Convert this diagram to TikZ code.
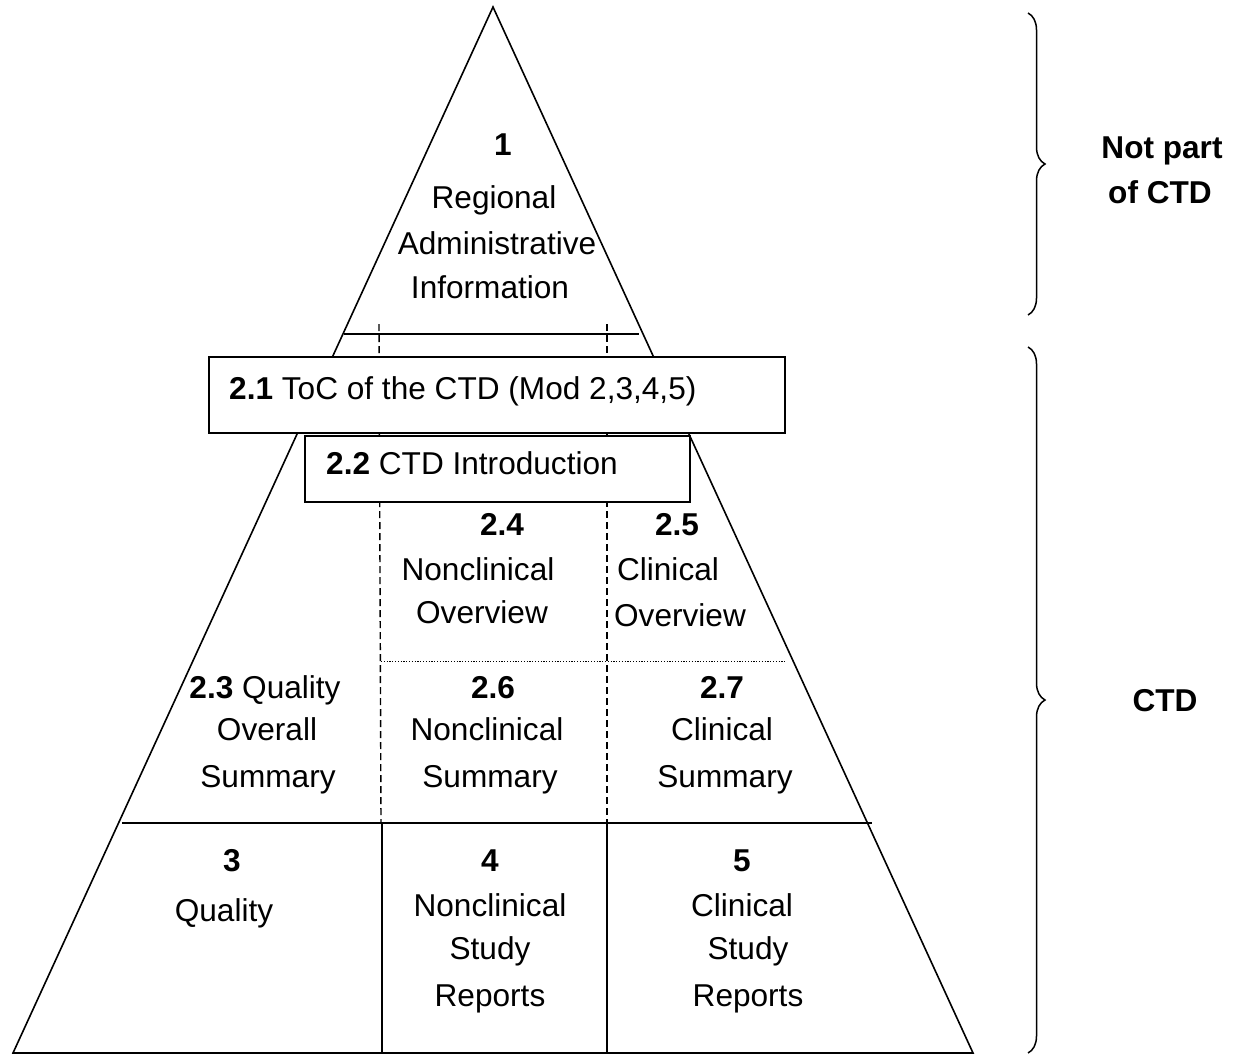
\documentclass[tikz,border=0pt]{standalone}
\usepackage{fontspec}
\setmainfont{Liberation Sans}
\usetikzlibrary{decorations.pathreplacing}
\begin{document}
\begin{tikzpicture}[x=1pt,y=-1pt,
  edge/.style={line width=1.6pt},
  sep/.style={line width=1.4pt, dash pattern=on 7pt off 4pt},
  dotsep/.style={line width=1pt, dash pattern=on 1.2pt off 1.6pt},
  box/.style={draw, line width=1.8pt, fill=white, inner sep=0pt},
  lbl/.style={anchor=base, inner sep=0pt, font=\fontsize{31.6}{38}\selectfont},
  brc/.style={decorate, decoration={brace, amplitude=17pt}, line width=1.5pt}]

\useasboundingbox (0,0) rectangle (1233,1054);

% pyramid outline
\coordinate (apex) at (493,7);
\coordinate (bl) at (13,1053);
\coordinate (br) at (973,1053);
\draw[edge] (bl) -- (apex) -- (br) -- cycle;

% module 1 separator
\coordinate (m1l) at (344,334);
\coordinate (m1r) at (639,334);
\draw[edge] (m1l) -- (m1r);

% dashed column separators in the summary part
\coordinate (d1t) at (379,324);
\coordinate (d1b) at (381,823);
\coordinate (d2t) at (607,324);
\coordinate (d2b) at (607,823);
\draw[sep] (d1t) -- (d1b);
\draw[sep] (d2t) -- (d2b);

% dotted line between overviews and summaries
\coordinate (ol) at (381,661);
\coordinate (or) at (786,661);
\draw[dotsep] (ol) -- (or);

% module 2 / modules 3-5 separator
\coordinate (hl) at (122,823);
\coordinate (hr) at (872,823);
\draw[edge] (hl) -- (hr);

% solid column separators of modules 3, 4, 5
\coordinate (c1t) at (382,823);
\coordinate (c1b) at (382,1053);
\coordinate (c2t) at (607,823);
\coordinate (c2b) at (607,1053);
\draw[edge] (c1t) -- (c1b);
\draw[edge] (c2t) -- (c2b);

% boxes 2.1 and 2.2
\node[box, minimum width=576pt, minimum height=76pt] (b21) at (497,395) {};
\node[box, minimum width=385pt, minimum height=66pt] (b22) at (497.5,469) {};
\node[lbl, anchor=base west] (t21) at (229,399) {\textbf{2.1} ToC of the CTD (Mod 2,3,4,5)};
\node[lbl, anchor=base west] (t22) at (326,474) {\textbf{2.2} CTD Introduction};

% section labels
\foreach \n/\x/\y/\t in {
  t1/503/155/\textbf{1}, t1a/494/208/Regional, t1b/497/254/Administrative, t1c/490/298/Information,
  t24/502/535/\textbf{2.4}, t24a/478/580/Nonclinical, t24b/482/623/Overview,
  t25/677/535/\textbf{2.5}, t25a/668/580/Clinical, t25b/680/626/Overview,
  t23/265/698/{\textbf{2.3} Quality}, t23a/267/740/Overall, t23b/268/787/Summary,
  t26/493/698/\textbf{2.6}, t26a/487/740/Nonclinical, t26b/490/787/Summary,
  t27/722/698/\textbf{2.7}, t27a/722/740/Clinical, t27b/725/787/Summary,
  t3/232/871/\textbf{3}, t3a/224/921/Quality,
  t4/490/871/\textbf{4}, t4a/490/916/Nonclinical, t4b/490/959/Study, t4c/490/1006/Reports,
  t5/742/871/\textbf{5}, t5a/742/916/Clinical, t5b/748/959/Study, t5c/748/1006/Reports}
  \node[lbl] (\n) at (\x,\y) {\t};

% braces on the right
\coordinate (ua) at (1028,13);
\coordinate (ub) at (1028,315);
\coordinate (la) at (1028,347);
\coordinate (lb) at (1028,1053);
\draw[brc] (ua) -- (ub);
\draw[brc] (la) -- (lb);
\node[lbl] (np1) at (1162,158) {\textbf{Not part}};
\node[lbl] (np2) at (1160,203) {\textbf{of CTD}};
\node[lbl] (ctd) at (1165,711) {\textbf{CTD}};
\end{tikzpicture}
\end{document}
